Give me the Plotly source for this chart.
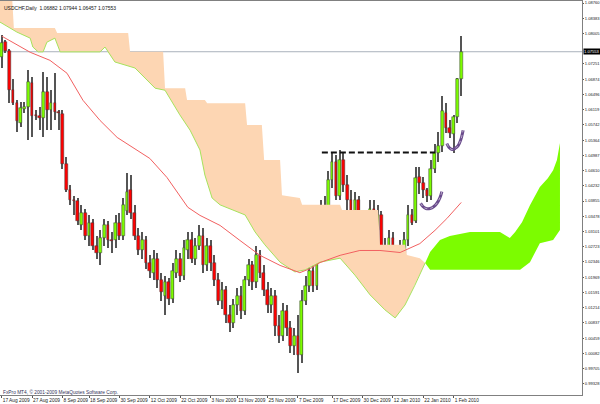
import plotly.graph_objects as go

# ---------------- data (bar index 0 = 17 Aug 2009, daily bars) ----------------
opens = [1.0742, 1.0779, 1.0757, 1.0660, 1.0628, 1.0578, 1.0613, 1.0618, 1.0677, 1.0598,
         1.0595, 1.0590, 1.0655, 1.0610, 1.0628, 1.0605, 1.0600, 1.0476, 1.0414, 1.0387,
         1.0385, 1.0325, 1.0357, 1.0300, 1.0332, 1.0275, 1.0258, 1.0293, 1.0325, 1.0288,
         1.0288, 1.0332, 1.0300, 1.0362, 1.0412, 1.0357, 1.0300, 1.0263, 1.0288, 1.0233,
         1.0208, 1.0243, 1.0189, 1.0151, 1.0184, 1.0144, 1.0208, 1.0243, 1.0201, 1.0263,
         1.0288, 1.0243, 1.0275, 1.0300, 1.0226, 1.0275, 1.0233, 1.0189, 1.0139, 1.0164,
         1.0102, 1.0084, 1.0127, 1.0151, 1.0114, 1.0189, 1.0226, 1.0184, 1.0251, 1.0208,
         1.0164, 1.0127, 1.0151, 1.0077, 1.0052, 1.0114, 1.0070, 1.0027, 1.0052, 1.0003,
         1.0139, 1.0176, 1.0213, 1.0176, 1.0288, 1.0362, 1.0318, 1.0437, 1.0481, 1.0399,
         1.0486, 1.0424, 1.0387, 1.0350, 1.0387, 1.0288, 1.0332, 1.0308, 1.0367, 1.0313,
         1.0350, 1.0275, 1.0251, 1.0293, 1.0208, 1.0189, 1.0258, 1.0288, 1.0350, 1.0337,
         1.0444, 1.0429, 1.0414, 1.0399, 1.0466, 1.0504, 1.0523, 1.0603, 1.0566, 1.0551,
         1.0593, 1.06882]
highs = [1.0796, 1.0784, 1.0761, 1.0687, 1.0635, 1.0630, 1.0630, 1.0709, 1.0692, 1.0610,
         1.0618, 1.0704, 1.0692, 1.0660, 1.0702, 1.0610, 1.0610, 1.0494, 1.0424, 1.0399,
         1.0392, 1.0375, 1.0367, 1.0350, 1.0342, 1.0300, 1.0313, 1.0342, 1.0337, 1.0308,
         1.0350, 1.0357, 1.0392, 1.0454, 1.0449, 1.0375, 1.0318, 1.0308, 1.0300, 1.0251,
         1.0263, 1.0258, 1.0208, 1.0201, 1.0194, 1.0233, 1.0263, 1.0258, 1.0288, 1.0308,
         1.0308, 1.0293, 1.0325, 1.0318, 1.0293, 1.0288, 1.0251, 1.0208, 1.0184, 1.0176,
         1.0127, 1.0144, 1.0169, 1.0176, 1.0201, 1.0243, 1.0238, 1.0275, 1.0263, 1.0226,
         1.0184, 1.0169, 1.0164, 1.0102, 1.0134, 1.0127, 1.0089, 1.0070, 1.0102, 1.0164,
         1.0201, 1.0233, 1.0233, 1.0313, 1.0387, 1.0399, 1.0461, 1.0506, 1.0499, 1.0511,
         1.0506, 1.0449, 1.0412, 1.0407, 1.0399, 1.0357, 1.0350, 1.0387, 1.0387, 1.0375,
         1.0362, 1.0293, 1.0313, 1.0308, 1.0233, 1.0288, 1.0308, 1.0375, 1.0367, 1.0469,
         1.0469, 1.0444, 1.0419, 1.0486, 1.0528, 1.0556, 1.0645, 1.0628, 1.0585, 1.0598,
         1.0690, 1.07944]
lows = [1.0714, 1.0752, 1.0628, 1.0623, 1.0556, 1.0568, 1.0603, 1.0536, 1.0543, 1.0585,
        1.0561, 1.0543, 1.0561, 1.0561, 1.0585, 1.0561, 1.0466, 1.0407, 1.0375, 1.0350,
        1.0325, 1.0313, 1.0288, 1.0275, 1.0263, 1.0243, 1.0226, 1.0275, 1.0268, 1.0258,
        1.0268, 1.0288, 1.0288, 1.0350, 1.0342, 1.0288, 1.0251, 1.0243, 1.0218, 1.0194,
        1.0189, 1.0169, 1.0139, 1.0102, 1.0127, 1.0134, 1.0194, 1.0184, 1.0189, 1.0243,
        1.0233, 1.0226, 1.0263, 1.0208, 1.0213, 1.0213, 1.0176, 1.0127, 1.0119, 1.0084,
        1.0060, 1.0070, 1.0102, 1.0094, 1.0102, 1.0176, 1.0164, 1.0169, 1.0194, 1.0151,
        1.0109, 1.0109, 1.0052, 1.0035, 1.0040, 1.0052, 1.0010, 1.0003, 0.9960, 0.9985,
        1.0127, 1.0159, 1.0159, 1.0164, 1.0275, 1.0300, 1.0308, 1.0417, 1.0387, 1.0387,
        1.0407, 1.0362, 1.0332, 1.0332, 1.0268, 1.0275, 1.0288, 1.0293, 1.0288, 1.0293,
        1.0263, 1.0233, 1.0201, 1.0151, 1.0159, 1.0176, 1.0233, 1.0275, 1.0325, 1.0332,
        1.0404, 1.0392, 1.0382, 1.0387, 1.0454, 1.0481, 1.0506, 1.0553, 1.0541, 1.0504,
        1.0580, 1.06457]
closes = [1.0776, 1.0757, 1.0660, 1.0628, 1.0583, 1.0615, 1.0618, 1.0680, 1.0595, 1.0595,
          1.0590, 1.0655, 1.0610, 1.0628, 1.0605, 1.0603, 1.0476, 1.0414, 1.0387, 1.0385,
          1.0337, 1.0357, 1.0300, 1.0332, 1.0275, 1.0258, 1.0293, 1.0325, 1.0288, 1.0287,
          1.0332, 1.0300, 1.0375, 1.0407, 1.0357, 1.0300, 1.0263, 1.0288, 1.0233, 1.0213,
          1.0243, 1.0189, 1.0159, 1.0184, 1.0144, 1.0213, 1.0243, 1.0201, 1.0268, 1.0288,
          1.0243, 1.0275, 1.0300, 1.0226, 1.0275, 1.0233, 1.0189, 1.0139, 1.0164, 1.0102,
          1.0084, 1.0127, 1.0151, 1.0114, 1.0189, 1.0226, 1.0184, 1.0251, 1.0208, 1.0164,
          1.0127, 1.0151, 1.0077, 1.0052, 1.0114, 1.0070, 1.0027, 1.0052, 1.0003, 1.0139,
          1.0176, 1.0213, 1.0176, 1.0288, 1.0362, 1.0318, 1.0437, 1.0481, 1.0399, 1.0486,
          1.0424, 1.0387, 1.0350, 1.0387, 1.0288, 1.0332, 1.0308, 1.0367, 1.0313, 1.0350,
          1.0275, 1.0251, 1.0293, 1.0208, 1.0189, 1.0263, 1.0288, 1.0350, 1.0332, 1.0442,
          1.0429, 1.0414, 1.0399, 1.0466, 1.0504, 1.0523, 1.0608, 1.0566, 1.0553, 1.0593,
          1.0687, 1.07553]

# moving average (red line) vertices: bar index, price
ma_idx = [0, 7.5, 12.7, 17.2, 21.4, 25.9, 30.4, 34.6, 39.0, 43.5, 47.7, 49.0, 52.2, 57.5,
          62.7, 68.0, 73.3, 78.5, 81.2, 83.8, 89.1, 94.3, 99.6, 104.9, 110.1, 114.1, 117.2, 121.0]
ma_val = [1.0794, 1.0754, 1.0734, 1.0702, 1.0635, 1.0585, 1.0543, 1.0518, 1.0491, 1.0444,
          1.0387, 1.0370, 1.0350, 1.0325, 1.0288, 1.0251, 1.0226, 1.0208, 1.0218, 1.0233,
          1.0251, 1.0263, 1.0263, 1.0258, 1.0280, 1.0313, 1.0342, 1.0382]

# Ichimoku cloud (bearish part): upper edge (span B) and lower edge (span A)
kumo_b_idx = [-0.5, 2.7, 3.2, 14.0, 14.6, 33.3, 33.8, 42.5, 43.0, 48.3, 48.8, 53.5, 54.1,
              64.1, 64.6, 68.5, 69.1, 73.3, 73.8, 78.5, 79.1, 89.1, 89.6, 99.1, 99.6,
              106.2, 106.7, 110.1, 111.5]
kumo_b_val = [1.0896, 1.0896, 1.0814, 1.0814, 1.0802, 1.0802, 1.0755, 1.0755, 1.0665, 1.0665,
              1.0636, 1.0636, 1.0628, 1.0628, 1.0574, 1.0574, 1.0487, 1.0487, 1.0400, 1.0393,
              1.0376, 1.0376, 1.0363, 1.0363, 1.0277, 1.0277, 1.0252, 1.0244, 1.0232]
kumo_a_idx = [-0.5, 4.0, 7.5, 8.2, 9.6, 10.9, 11.9, 14.0, 15.4, 25.9, 27.2, 28.5, 29.8, 35.1,
              40.4, 43.0, 46.9, 49.6, 52.2, 53.5, 55.4, 57.5, 64.1, 66.7, 69.3, 73.3, 77.2,
              79.9, 83.8, 89.1, 93.0, 97.0, 100.9, 103.6, 106.2, 108.8, 111.5]
kumo_a_val = [1.0829, 1.0804, 1.0789, 1.0767, 1.0755, 1.0755, 1.0779, 1.0789, 1.0755, 1.0755,
              1.0767, 1.0747, 1.0730, 1.0715, 1.0665, 1.0660, 1.0599, 1.0561, 1.0512, 1.0450,
              1.0393, 1.0376, 1.0351, 1.0309, 1.0277, 1.0234, 1.0210, 1.0215, 1.0234, 1.0244,
              1.0202, 1.0153, 1.0116, 1.0096, 1.0128, 1.0177, 1.0232]
# Ichimoku cloud (bullish future part)
kumo2_a_idx = [111.5, 112.8, 115.4, 118.0, 123.3, 131.2, 133.8, 135.2, 137.0, 139.1, 141.7,
               143.8, 145.2, 146.2, 147.0]
kumo2_a_val = [1.0232, 1.0259, 1.0289, 1.0299, 1.0309, 1.0309, 1.0294, 1.0309, 1.0333, 1.0375,
               1.0420, 1.0442, 1.0462, 1.0487, 1.0529]
kumo2_b_idx = [111.5, 112.8, 116.7, 136.5, 139.1, 141.7, 145.2, 147.0]
kumo2_b_val = [1.0232, 1.0215, 1.0215, 1.0215, 1.0234, 1.0281, 1.0289, 1.0314]

# resistance (dashed) and hand-drawn arcs
resist_idx = [84.3, 114.1]
resist_val = [1.0506, 1.0506]
arc1_idx = [110.3, 110.9, 111.7, 112.8, 113.8, 114.6, 115.4, 115.9]
arc1_val = [1.0380, 1.0372, 1.0367, 1.0367, 1.0372, 1.0380, 1.0394, 1.0409]
arc2_idx = [117.2, 117.8, 118.6, 119.4, 120.2, 120.9, 121.5]
arc2_val = [1.0528, 1.0518, 1.0513, 1.0516, 1.0523, 1.0538, 1.0561]

last_price = 1.07553
date_idx = [0, 8, 16, 23, 31, 39, 47, 55, 62, 70, 78, 87, 95, 103, 111, 119]
date_labels = ["17 Aug 2009", "27 Aug 2009", "8 Sep 2009", "18 Sep 2009", "30 Sep 2009",
               "12 Oct 2009", "22 Oct 2009", "3 Nov 2009", "13 Nov 2009", "25 Nov 2009",
               "7 Dec 2009", "17 Dec 2009", "30 Dec 2009", "12 Jan 2010", "22 Jan 2010",
               "1 Feb 2010"]
price_ticks = [1.08760, 1.08383, 1.08005, 1.07251, 1.06874, 1.06496, 1.06119, 1.05742,
               1.05364, 1.04987, 1.04610, 1.04232, 1.03855, 1.03478, 1.03101, 1.02723,
               1.02346, 1.01969, 1.01591, 1.01214, 1.00837, 1.00459, 1.00082, 0.99705,
               0.99328]
bottom_tick = 0.98950

# ---------------- figure ----------------
FONT = "Liberation Sans"
idx = list(range(len(opens)))
fig = go.Figure()

# cloud fills
fig.add_trace(go.Scatter(x=kumo_b_idx + kumo_a_idx[::-1], y=kumo_b_val + kumo_a_val[::-1],
                         fill="toself", fillcolor="#fdd6b3", mode="lines",
                         line=dict(width=0, color="#fdd6b3"), hoverinfo="skip"))
fig.add_trace(go.Scatter(x=kumo2_a_idx + kumo2_b_idx[::-1], y=kumo2_a_val + kumo2_b_val[::-1],
                         fill="toself", fillcolor="#7cfc00", mode="lines",
                         line=dict(width=0, color="#7cfc00"), hoverinfo="skip"))
fig.add_trace(go.Scatter(x=kumo_a_idx, y=kumo_a_val, mode="lines",
                         line=dict(color="#a6e35c", width=1), hoverinfo="skip"))

# moving average
fig.add_trace(go.Scatter(x=ma_idx, y=ma_val, mode="lines",
                         line=dict(color="#f26060", width=1), hoverinfo="skip"))

# candles: wicks
fig.add_trace(go.Bar(x=idx, y=[h - l for h, l in zip(highs, lows)], base=lows,
                     width=0.27, marker=dict(color="#555555", line=dict(width=0)),
                     hoverinfo="skip"))
# candles: bodies
body_base, body_h, body_col = [], [], []
for o, c in zip(opens, closes):
    if abs(c - o) < 0.00006:
        body_base.append(min(o, c))
        body_h.append(0.00005)
        body_col.append("#222222")
    else:
        body_base.append(min(o, c))
        body_h.append(abs(c - o))
        body_col.append("#7cfc00" if c > o else "#ff0000")
fig.add_trace(go.Bar(x=idx, y=body_h, base=body_base, width=0.72,
                     marker=dict(color=body_col, line=dict(color="#3a3a3a", width=0.5)),
                     hoverinfo="skip"))

# resistance dashed line
fig.add_trace(go.Scatter(x=resist_idx, y=resist_val, mode="lines",
                         line=dict(color="#111111", width=2, dash="6px,3px"), hoverinfo="skip"))
# hand-drawn arcs
for ax, ay in ((arc1_idx, arc1_val), (arc2_idx, arc2_val)):
    fig.add_trace(go.Scatter(x=ax, y=ay, mode="lines",
                             line=dict(color="#6a4b8c", width=3, shape="spline"),
                             hoverinfo="skip"))
    fig.add_trace(go.Scatter(x=ax, y=ay, mode="lines",
                             line=dict(color="rgba(255,255,255,0.55)", width=1, dash="dot",
                                       shape="spline"),
                             hoverinfo="skip"))

# bid line
fig.add_shape(type="line", xref="paper", x0=0, x1=1, yref="y", y0=last_price, y1=last_price,
              line=dict(color="#a9b1bc", width=1), layer="below")

fig.update_layout(
    width=600, height=404, margin=dict(l=0, r=18, t=1, b=9),
    paper_bgcolor="white", plot_bgcolor="white", showlegend=False,
    barmode="overlay", bargap=0,
    xaxis=dict(range=[-0.45, 152.8], showgrid=False, zeroline=False, automargin=False,
               showline=True, linecolor="#808080", linewidth=1, mirror=True,
               ticks="outside", ticklen=2, tickcolor="#555555", tickangle=0,
               tickvals=date_idx, ticktext=date_labels, ticklabelposition="outside right",
               ticklabeloverflow="allow",
               tickfont=dict(family=FONT, size=4.8, color="#222222")),
    yaxis=dict(range=[0.9905, 1.0881], side="right", showgrid=False, zeroline=False,
               automargin=False,
               showline=True, linecolor="#808080", linewidth=1,
               ticks="outside", ticklen=1, tickcolor="#555555", ticklabeloverflow="allow",
               tickvals=price_ticks, ticktext=["%.5f" % v for v in price_ticks],
               tickfont=dict(family=FONT, size=4.1, color="#222222")),
)

fig.add_annotation(xref="paper", yref="paper", x=0.004, y=0.995, xanchor="left", yanchor="top",
                   text="USDCHF,Daily  1.06882 1.07944 1.06457 1.07553", showarrow=False,
                   font=dict(family=FONT, size=5, color="#111111"))
fig.add_annotation(xref="paper", yref="paper", x=0.003, y=0.0, xanchor="left", yanchor="bottom",
                   yshift=-1, borderpad=0,
                   text="FxPro MT4, © 2001-2009 MetaQuotes Software Corp.", showarrow=False,
                   font=dict(family=FONT, size=4.8, color="#33335a"))
fig.add_annotation(xref="paper", yref="y", x=1.0, y=last_price, xanchor="left", yanchor="middle",
                   xshift=1, text="1.07553", showarrow=False, bgcolor="#000000",
                   borderpad=0, font=dict(family=FONT, size=4.1, color="#ffffff"))
fig.add_annotation(xref="paper", yref="y", x=1.0, y=bottom_tick, xanchor="left", yanchor="middle",
                   xshift=1, text="0.98950", showarrow=False, borderpad=0,
                   font=dict(family=FONT, size=4.1, color="#222222"))

fig.write_html("out.html", config={"displayModeBar": False},
               post_script="document.body.style.margin='0';document.body.style.overflow='hidden';")
